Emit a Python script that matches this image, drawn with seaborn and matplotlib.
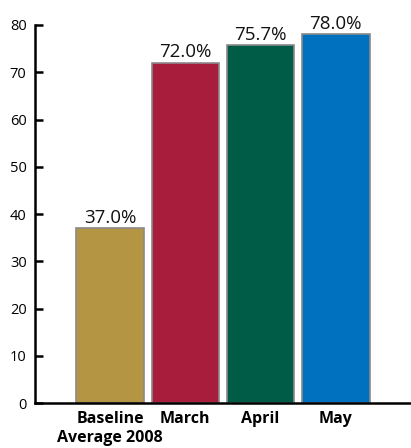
import matplotlib
matplotlib.use("Agg")
import matplotlib.pyplot as plt
import pandas as pd
import seaborn as sns

# values
categories = ["Baseline\nAverage 2008", "March", "April", "May"]
values = [37.0, 72.0, 75.7, 78.0]
colors = ["#B39543", "#A91D3C", "#005C47", "#0071BF"]
y_ticks = [0, 10, 20, 30, 40, 50, 60, 70, 80]

sns.set_style("white")
plt.rcParams["font.family"] = ["Open Sans", "DejaVu Sans"]
plt.rcParams["text.color"] = "black"
plt.rcParams["xtick.color"] = "black"
plt.rcParams["ytick.color"] = "black"

df = pd.DataFrame({"month": categories, "pct": values})

fig = plt.figure(figsize=(4.11, 4.48), dpi=100)
ax = fig.add_axes([0.085, 0.1004, 0.915, 0.8438])

sns.barplot(
    data=df, x="month", y="pct", hue="month",
    palette=colors, legend=False, width=0.9, saturation=1,
    edgecolor="#8a8a8a", linewidth=1.2, ax=ax,
)

for cont in ax.containers:
    ax.bar_label(cont, fmt="%.1f%%", padding=1, fontsize=13.5, color="#111111")

ax.set_xlim(-1, 4)
ax.set_ylim(0, 80)
ax.set_yticks(y_ticks)
ax.set_xlabel("")
ax.set_ylabel("")

for side in ["top", "right"]:
    ax.spines[side].set_visible(False)
for side in ["left", "bottom"]:
    ax.spines[side].set_color("black")
    ax.spines[side].set_linewidth(1.8)

ax.tick_params(axis="y", direction="in", length=6, width=1.8,
               labelsize=10.5, pad=6, left=True)
ax.tick_params(axis="x", length=0, labelsize=11.5, pad=6)
for lbl in ax.get_xticklabels():
    lbl.set_fontweight("bold")

fig.savefig("out.png", dpi=100)
